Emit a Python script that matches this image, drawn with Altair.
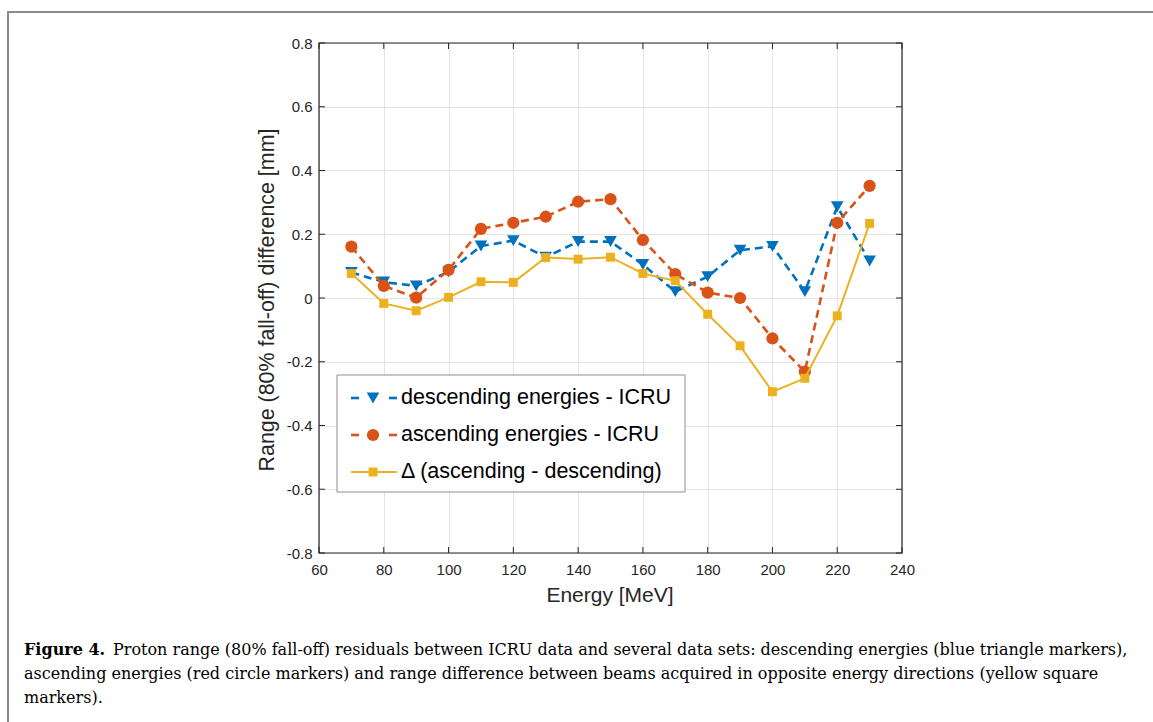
import altair as alt
import pandas as pd

# ---- data ----
energy = [70, 80, 90, 100, 110, 120, 130, 140, 150, 160, 170, 180, 190, 200, 210, 220, 230]
descending = [0.080, 0.050, 0.038, 0.082, 0.163, 0.180, 0.128, 0.177, 0.177, 0.105, 0.020, 0.067, 0.150, 0.162, 0.020, 0.286, 0.116]
ascending = [0.161, 0.038, 0.001, 0.088, 0.217, 0.236, 0.255, 0.302, 0.310, 0.182, 0.075, 0.017, 0.000, -0.127, -0.231, 0.236, 0.352]
delta = [0.077, -0.017, -0.040, 0.002, 0.051, 0.049, 0.127, 0.122, 0.128, 0.077, 0.054, -0.051, -0.150, -0.294, -0.252, -0.056, 0.234]

series_names = ["descending energies - ICRU", "ascending energies - ICRU", "\u0394 (ascending - descending)"]
series_colors = ["#0072BD", "#D95319", "#EDB120"]
series_shapes = ["triangle-down", "circle", "square"]
series_sizes = [160, 150, 80]

x_ticks = [60, 80, 100, 120, 140, 160, 180, 200, 220, 240]
y_ticks = [-0.8, -0.6, -0.4, -0.2, 0.0, 0.2, 0.4, 0.6, 0.8]

x_title = "Energy [MeV]"
y_title = "Range (80% fall-off) difference [mm]"
caption_bold = "Figure 4."
caption_lines = [
    "Proton range (80% fall-off) residuals between ICRU data and several data sets: descending energies (blue triangle markers),",
    "ascending energies (red circle markers) and range difference between beams acquired in opposite energy directions (yellow square",
    "markers).",
]

# ---- layout ----
W, H = 583, 510
LEFT, TOP = 319, 43
AX = "#262626"
SANS = "Liberation Sans"
SERIF = "DejaVu Serif"

xs = alt.Scale(domain=[60, 240], nice=False, zero=False)
ys = alt.Scale(domain=[-0.8, 0.8], nice=False, zero=False)

one = pd.DataFrame({"d": [0]})

xaxis = alt.Axis(values=x_ticks, grid=True, gridColor="#e4e4e4", domain=False, ticks=False,
                 labelFont=SANS, labelFontSize=15, labelColor=AX, labelPadding=9,
                 labelFlush=False, title=None)
yaxis = alt.Axis(values=y_ticks, grid=True, gridColor="#e4e4e4", domain=False, ticks=False,
                 labelFont=SANS, labelFontSize=15, labelColor=AX, labelPadding=7,
                 labelFlush=False, title=None,
                 labelExpr="datum.value == 0 ? '0' : replace(format(datum.value, '.1f'), '\u2212', '-')")

layers = []

# border around figure
layers.append(alt.Chart(one).mark_rect(fill=None, stroke="#8a8a8a", strokeWidth=2).encode(
    x=alt.value(8 - LEFT), x2=alt.value(1153 - LEFT + 20),
    y=alt.value(12 - TOP), y2=alt.value(722 - TOP + 20)))

# grid / axes base
base = alt.Chart(pd.DataFrame({"e": [60, 240], "v": [-0.8, 0.8]})).mark_point(opacity=0).encode(
    x=alt.X("e:Q", scale=xs, axis=xaxis), y=alt.Y("v:Q", scale=ys, axis=yaxis))
layers.append(base)

# axes box
layers.append(alt.Chart(one).mark_rect(fill=None, stroke=AX, strokeWidth=1.2).encode(
    x=alt.value(0), x2=alt.value(W), y=alt.value(0), y2=alt.value(H)))

# inside ticks on all four sides
tl = 6
xt = pd.DataFrame({"t": x_ticks})
yt = pd.DataFrame({"t": y_ticks})
layers.append(alt.Chart(xt).mark_rule(color=AX, strokeWidth=1).encode(
    x=alt.X("t:Q", scale=xs), y=alt.value(H), y2=alt.value(H - tl)))
layers.append(alt.Chart(xt).mark_rule(color=AX, strokeWidth=1).encode(
    x=alt.X("t:Q", scale=xs), y=alt.value(0), y2=alt.value(tl)))
layers.append(alt.Chart(yt).mark_rule(color=AX, strokeWidth=1).encode(
    y=alt.Y("t:Q", scale=ys), x=alt.value(0), x2=alt.value(tl)))
layers.append(alt.Chart(yt).mark_rule(color=AX, strokeWidth=1).encode(
    y=alt.Y("t:Q", scale=ys), x=alt.value(W), x2=alt.value(W - tl)))

# data series
for name, vals, col, shp, sz, dash in zip(series_names, [descending, ascending, delta],
                                          series_colors, series_shapes, series_sizes,
                                          [[8, 5], [8, 5], None]):
    df = pd.DataFrame({"e": energy, "v": vals})
    lkw = dict(color=col, strokeWidth=2.6 if dash else 2.0)
    if dash:
        lkw["strokeDash"] = dash
    layers.append(alt.Chart(df).mark_line(**lkw).encode(
        x=alt.X("e:Q", scale=xs), y=alt.Y("v:Q", scale=ys)))
    layers.append(alt.Chart(df).mark_point(shape=shp, size=sz, filled=True, color=col, opacity=1).encode(
        x=alt.X("e:Q", scale=xs), y=alt.Y("v:Q", scale=ys)))

# legend
lx0, ly0, lx1, ly1 = 18, 332, 366, 449
layers.append(alt.Chart(one).mark_rect(fill="white", stroke="#8f8f8f", strokeWidth=1).encode(
    x=alt.value(lx0), x2=alt.value(lx1), y=alt.value(ly0), y2=alt.value(ly1)))
row_y = [355, 392, 429]
for i, (name, col, shp, sz) in enumerate(zip(series_names, series_colors, series_shapes, series_sizes)):
    yy = row_y[i]
    if i < 2:
        layers.append(alt.Chart(one).mark_rule(color=col, strokeWidth=2.6).encode(
            x=alt.value(32), x2=alt.value(40), y=alt.value(yy)))
        layers.append(alt.Chart(one).mark_rule(color=col, strokeWidth=2.6).encode(
            x=alt.value(70), x2=alt.value(78), y=alt.value(yy)))
    else:
        layers.append(alt.Chart(one).mark_rule(color=col, strokeWidth=2.0).encode(
            x=alt.value(32), x2=alt.value(78), y=alt.value(yy)))
    layers.append(alt.Chart(one).mark_point(shape=shp, size=sz, filled=True, color=col, opacity=1).encode(
        x=alt.value(54), y=alt.value(yy)))
    layers.append(alt.Chart(one).mark_text(text=name, font=SANS, fontSize=21.5, color="black",
                                           align="left", baseline="middle").encode(
        x=alt.value(82), y=alt.value(yy)))

# axis titles
layers.append(alt.Chart(one).mark_text(text=x_title, font=SANS, fontSize=21, color=AX,
                                       align="center", baseline="middle").encode(
    x=alt.value(610 - LEFT), y=alt.value(596 - TOP)))
layers.append(alt.Chart(one).mark_text(text=y_title, font=SANS, fontSize=21.4, color=AX, angle=270,
                                       align="center", baseline="middle").encode(
    x=alt.value(268 - LEFT), y=alt.value(300 - TOP)))

# caption
cap_y = [650, 674, 698]
layers.append(alt.Chart(one).mark_text(text=caption_bold, font=SERIF, fontSize=16, fontWeight="bold",
                                       color="black", align="left", baseline="middle").encode(
    x=alt.value(24 - LEFT), y=alt.value(cap_y[0] - TOP)))
for i, line in enumerate(caption_lines):
    x0 = 113 if i == 0 else 24
    layers.append(alt.Chart(one).mark_text(text=line, font=SERIF, fontSize=16, color="black",
                                           align="left", baseline="middle").encode(
        x=alt.value(x0 - LEFT), y=alt.value(cap_y[i] - TOP)))

chart = alt.layer(*layers).properties(
    width=W, height=H,
    autosize=alt.AutoSizeParams(type="none"),
    padding={"left": LEFT, "top": TOP, "right": 1153 - LEFT - W, "bottom": 722 - TOP - H},
).configure_view(stroke=None).configure(background="white")

chart.save("out.html", embed_options={"renderer": "svg", "actions": False})
